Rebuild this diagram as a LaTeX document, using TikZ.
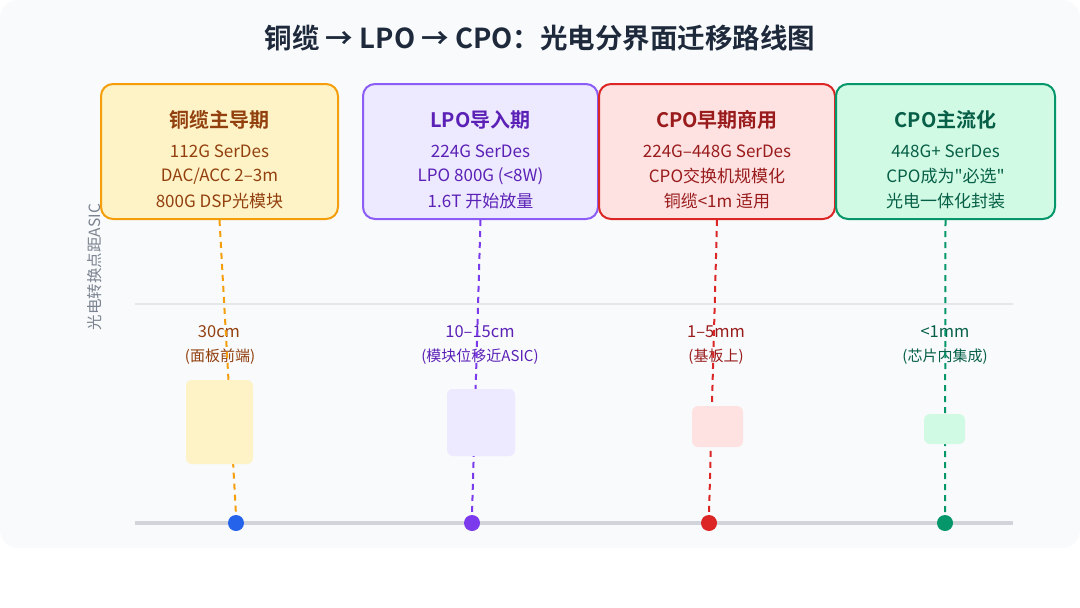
\documentclass[tikz,border=0pt]{standalone}
\usepackage{fontspec}
\setmainfont{Noto Sans CJK SC}[BoldFont={Noto Sans CJK SC Bold},Ligatures=TeXOff]
\definecolor{bgc}{HTML}{F8FAFC}
\definecolor{titlec}{HTML}{1E293B}
\definecolor{oB}{HTML}{F59E0B}\definecolor{oF}{HTML}{FEF3C7}\definecolor{oT}{HTML}{92400E}
\definecolor{pB}{HTML}{8B5CF6}\definecolor{pF}{HTML}{EDE9FE}\definecolor{pT}{HTML}{5B21B6}
\definecolor{rB}{HTML}{DC2626}\definecolor{rF}{HTML}{FEE2E2}\definecolor{rT}{HTML}{991B1B}
\definecolor{gB}{HTML}{059669}\definecolor{gF}{HTML}{D1FAE5}\definecolor{gT}{HTML}{065F46}
\definecolor{dBlue}{HTML}{2563EB}\definecolor{dPur}{HTML}{7C3AED}
\definecolor{gridc}{HTML}{E5E7EB}\definecolor{axisc}{HTML}{D1D5DB}\definecolor{labc}{HTML}{7B8390}
\tikzset{
  stage/.style={draw, line width=2pt, rounded corners=12pt, inner sep=0pt},
  stitle/.style={font=\bfseries\fontsize{20}{24}\selectfont, inner sep=0pt},
  sline/.style={font=\fontsize{17}{20}\selectfont, inner sep=0pt},
  dist/.style={font=\fontsize{16.5}{19}\selectfont, inner sep=0pt},
  distsub/.style={font=\fontsize{15}{18}\selectfont, inner sep=0pt},
  chip/.style={rounded corners=6pt, inner sep=0pt},
  dot/.style={circle, minimum size=16pt, inner sep=0pt},
  dline/.style={line width=2pt, dash pattern=on 6pt off 5pt}
}
\begin{document}
\begin{tikzpicture}[x=1pt,y=-1pt]
\useasboundingbox (0,0) rectangle (1080,608);
\fill[bgc, rounded corners=18pt] (0,0) rectangle (1080,548);
\node[font=\bfseries\fontsize{27.5}{32}\selectfont, text=titlec, inner sep=0pt] (title) at (540,38) {铜缆 → LPO → CPO：光电分界面迁移路线图};

% grid and axis
\coordinate (g1) at (135,304); \coordinate (g2) at (1013,304);
\draw[gridc, line width=1.5pt] (g1) -- (g2);
\coordinate (a1) at (135,523); \coordinate (a2) at (1013,523);
\draw[axisc, line width=4pt] (a1) -- (a2);
\node[rotate=90, font=\fontsize{15.5}{18}\selectfont, text=labc, inner sep=0pt] (ylab) at (95,267) {光电转换点距ASIC};

% distance labels
\node[dist, text=oT] (l1) at (219,332) {30cm};
\node[distsub, text=oT] (s1) at (220,357) {(面板前端)};
\node[dist, text=pT] (l2) at (480,332) {10–15cm};
\node[distsub, text=pT] (s2) at (480,357) {(模块位移近ASIC)};
\node[dist, text=rT] (l3) at (716,332) {1–5mm};
\node[distsub, text=rT] (s3) at (716,357) {(基板上)};
\node[dist, text=gT] (l4) at (945,332) {<1mm};
\node[distsub, text=gT] (s4) at (945,357) {(芯片内集成)};

% stage boxes
\node[stage, draw=oB, fill=oF, minimum width=237pt, minimum height=135pt] (b1) at (219.5,151.5) {};
\node[stage, draw=pB, fill=pF, minimum width=235pt, minimum height=135pt] (b2) at (480.5,151.5) {};
\node[stage, draw=rB, fill=rF, minimum width=236pt, minimum height=135pt] (b3) at (717,151.5) {};
\node[stage, draw=gB, fill=gF, minimum width=219pt, minimum height=135pt] (b4) at (945.5,151.5) {};

\node[stitle, text=oT] (t1) at (219.5,120) {铜缆主导期};
\node[sline, text=oT] (t1a) at (219.5,151) {112G SerDes};
\node[sline, text=oT] (t1b) at (219.5,176) {DAC/ACC 2–3m};
\node[sline, text=oT] (t1c) at (219.5,201) {800G DSP光模块};

\node[stitle, text=pT] (t2) at (480.5,120) {LPO导入期};
\node[sline, text=pT] (t2a) at (480.5,151) {224G SerDes};
\node[sline, text=pT] (t2b) at (480.5,176) {LPO 800G (<8W)};
\node[sline, text=pT] (t2c) at (480.5,201) {1.6T 开始放量};

\node[stitle, text=rT] (t3) at (717,120) {CPO早期商用};
\node[sline, text=rT] (t3a) at (717,151) {224G–448G SerDes};
\node[sline, text=rT] (t3b) at (717,176) {CPO交换机规模化};
\node[sline, text=rT] (t3c) at (717,201) {铜缆<1m 适用};

\node[stitle, text=gT] (t4) at (945.5,120) {CPO主流化};
\node[sline, text=gT] (t4a) at (945.5,151) {448G+ SerDes};
\node[sline, text=gT] (t4b) at (945.5,176) {CPO成为"必选"};
\node[sline, text=gT] (t4c) at (945.5,201) {光电一体化封装};

% dots
\node[dot, fill=dBlue] (d1) at (236,523) {};
\node[dot, fill=dPur] (d2) at (472,523) {};
\node[dot, fill=rB] (d3) at (709,523) {};
\node[dot, fill=gB] (d4) at (945,523) {};

% dashed connectors
\draw[dline, oB] (b1.south) -- (d1.north);
\draw[dline, dPur] (b2.south) -- (d2.north);
\draw[dline, rB] (b3.south) -- (d3.north);
\draw[dline, gB] (b4.south) -- (d4.north);

% chips
\node[chip, fill=oF, minimum width=67pt, minimum height=84pt] (c1) at (219.5,422) {};
\node[chip, fill=pF, minimum width=68pt, minimum height=67pt] (c2) at (481,422.5) {};
\node[chip, fill=rF, minimum width=51pt, minimum height=41pt] (c3) at (717.5,426.5) {};
\node[chip, fill=gF, minimum width=41pt, minimum height=30pt] (c4) at (944.5,429) {};
\end{tikzpicture}
\end{document}
